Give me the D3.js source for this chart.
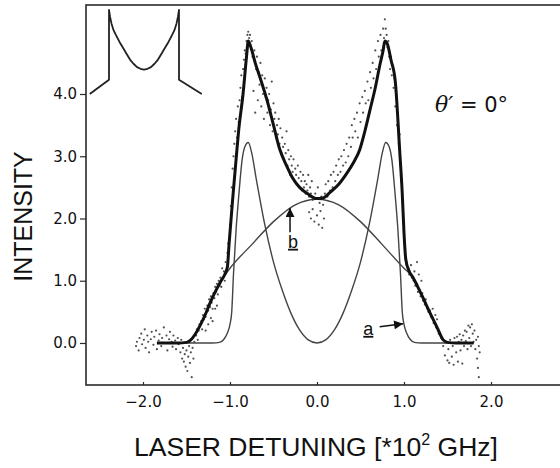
<!DOCTYPE html>
<html><head><meta charset="utf-8">
<script src="https://cdn.jsdelivr.net/npm/d3@7"></script>
<style>
html,body{margin:0;padding:0;background:#fff;}
svg{display:block;}
</style></head>
<body>
<svg id="chart" width="560" height="468"></svg>
<script>
// ---- data ----
const xTicks = [-2, -1, 0, 1, 2];
const yTicks = [0, 1, 2, 3, 4];

// curve a (thin, two narrow peaks)
const aX = [-1.80,-1.20,-1.12,-1.07,-1.03,-1.00,-0.98,-0.96,-0.93,-0.90,-0.86,-0.83,-0.79,-0.75,-0.70,-0.60,-0.50,-0.40,-0.30,-0.20,-0.10,0,
             0.10,0.20,0.30,0.40,0.50,0.60,0.70,0.75,0.79,0.83,0.86,0.90,0.93,0.96,0.98,1.00,1.03,1.07,1.12,1.20,1.80];
const aY = [0,0,0.01,0.06,0.16,0.30,0.50,1.10,1.82,2.35,2.95,3.15,3.22,3.05,2.65,1.90,1.30,0.85,0.48,0.21,0.05,0,
             0.05,0.21,0.48,0.85,1.30,1.90,2.65,3.05,3.22,3.15,2.95,2.35,1.82,1.10,0.50,0.30,0.16,0.06,0.01,0,0];

// curve b (thin, broad)
const bX = [-1.80,-1.60,-1.50,-1.46,-1.40,-1.34,-1.23,-1.11,-1.00,-0.75,-0.50,-0.25,0,0.25,0.50,0.75,1.00,1.10,1.20,1.30,1.38,1.45,1.50,1.60,1.80];
const bY = [0,0,0.01,0.03,0.14,0.29,0.64,0.98,1.20,1.58,1.95,2.22,2.31,2.22,1.95,1.58,1.20,1.06,0.78,0.48,0.25,0.05,0.01,0,0];

// fitted total (thick)
const fitX = [-1.84,-1.60,-1.50,-1.45,-1.40,-1.34,-1.28,-1.23,-1.17,-1.11,-1.06,-1.03,-1.01,-0.97,-0.93,-0.90,-0.85,-0.81,-0.79,-0.76,-0.71,-0.64,-0.57,-0.50,-0.43,-0.35,-0.28,-0.20,-0.11,0,
               0.07,0.15,0.25,0.34,0.42,0.49,0.55,0.61,0.67,0.72,0.76,0.78,0.81,0.85,0.90,0.95,0.98,1.00,1.02,1.06,1.10,1.20,1.30,1.38,1.45,1.50,1.60,1.80];
const fitY = [0,0,0.01,0.05,0.14,0.29,0.47,0.64,0.82,0.98,1.10,1.22,1.60,2.30,2.95,3.42,4.00,4.60,4.85,4.75,4.50,4.20,3.88,3.50,3.12,2.85,2.65,2.50,2.40,2.32,
               2.33,2.42,2.55,2.72,2.90,3.10,3.40,3.75,4.10,4.45,4.70,4.85,4.80,4.55,4.20,3.10,2.40,1.77,1.35,1.15,1.06,0.78,0.48,0.25,0.05,0.01,0,0];

// measured data points [detuning, intensity]
const points = [
[-2.08,-0.05],[-2.07,0.02],[-2.05,-0.12],[-2.04,0.08],[-2.02,0.15],[-2.01,-0.02],[-1.99,0.05],[-1.98,0.22],[-1.97,-0.08],[-1.95,0.12],[-1.94,0.02],[-1.93,-0.15],[-1.91,0.06],[-1.90,0.18],[-1.88,-0.03],[-1.87,0.1],[-1.85,0.2],[-1.84,-0.1],[-1.82,0.04],[-1.81,0.14],[-1.79,-0.05],[-1.78,0.08],[-1.76,0.25],[-1.75,0.0],[-1.73,0.12],[-1.72,-0.12],[-1.70,0.06],[-1.69,0.18],[-1.67,0.02],[-1.66,-0.06],[-1.65,0.12],[-1.63,0.04],[-1.62,-0.1],[-1.60,0.08],[-1.59,-0.02],[-1.57,-0.15],[-1.56,0.05],[-1.55,-0.25],[-1.54,-0.08],[-1.53,-0.3],[-1.52,-0.18],[-1.51,-0.38],[-1.50,-0.12],[-1.49,-0.45],[-1.48,-0.22],[-1.47,-0.05],[-1.46,-0.32],[-1.45,-0.15],[-1.44,-0.55],[-1.43,-0.08],[-1.42,-0.25],[-1.41,0.02],
[-1.39,0.12],[-1.38,0.22],[-1.37,0.05],[-1.36,0.2],[-1.35,0.3],[-1.33,0.35],[-1.32,0.22],[-1.31,0.45],[-1.30,0.38],[-1.29,0.55],[-1.28,0.42],[-1.27,0.5],[-1.26,0.6],[-1.25,0.52],[-1.24,0.7],[-1.23,0.58],[-1.22,0.75],[-1.21,0.65],[-1.20,0.55],[-1.19,0.8],[-1.18,0.72],[-1.17,0.9],[-1.16,0.82],[-1.15,0.95],[-1.14,0.78],[-1.13,1.0],[-1.12,0.92],[-1.11,1.05],[-1.10,0.9],[-1.09,1.2],[-1.08,1.05],[-1.07,1.15],[-1.06,1.0],[-1.05,1.3],[-1.04,1.18],[-1.03,1.45],[-1.02,1.6],
[-1.28,0.2],[-1.25,0.3],[-1.22,0.4],[-1.20,0.35],[-1.17,0.55],[-1.15,0.6],
[-1.0,1.9],[-0.99,2.2],[-0.98,2.5],[-0.97,2.8],[-0.96,3.0],[-0.95,3.2],[-0.94,3.4],[-0.93,3.6],[-0.92,3.3],[-0.91,3.8],[-0.90,3.55],[-0.89,3.9],[-0.88,4.1],[-0.87,4.3],[-0.86,3.95],[-0.85,4.4],[-0.84,4.55],[-0.83,4.7],[-0.82,4.65],[-0.81,4.85],[-0.80,4.95],[-0.79,5.0],[-0.78,4.9],[-0.77,4.95],
[-0.75,4.85],[-0.74,4.6],[-0.73,4.05],[-0.72,4.7],[-0.71,3.7],[-0.70,4.4],[-0.69,4.6],[-0.68,3.9],[-0.67,4.35],[-0.66,4.15],[-0.65,4.5],[-0.64,3.8],[-0.63,4.3],[-0.62,4.0],[-0.61,3.6],[-0.60,4.25],[-0.59,3.95],[-0.58,4.1],[-0.57,3.7],[-0.56,3.9],[-0.55,4.0],[-0.54,3.5],[-0.53,3.75],[-0.52,4.2],[-0.51,3.4],[-0.50,3.85],[-0.49,3.6],[-0.48,3.7],[-0.47,3.3],[-0.46,3.5],[-0.45,3.35],[-0.44,3.6],[-0.43,3.2],[-0.42,3.45],[-0.41,3.05],[-0.40,3.3],[-0.39,3.15],[-0.38,2.95],[-0.37,3.2],[-0.36,3.05],[-0.35,3.4],[-0.34,2.85],[-0.33,3.1],[-0.32,2.95],[-0.31,2.7],[-0.30,3.0],[-0.29,2.85],[-0.28,2.75],[-0.27,2.95],[-0.26,2.6],[-0.25,2.8],[-0.24,2.7],[-0.23,2.55],[-0.22,2.85],[-0.21,2.65],[-0.20,2.5],[-0.19,2.75],[-0.18,2.6],[-0.17,2.45],[-0.16,2.7],[-0.15,2.5],[-0.14,2.6],[-0.13,2.4],[-0.12,2.55],[-0.11,2.45],[-0.10,2.7],[-0.09,2.35],[-0.08,2.5],[-0.07,2.4],[-0.06,2.6],[-0.05,2.3],
[-0.09,2.1],[-0.07,2.0],[-0.05,2.15],[-0.03,1.95],[0.0,2.05],[0.02,1.9],[0.04,2.12],[0.06,1.85],[0.08,2.0],[0.03,2.25],[0.05,2.35],[0.07,2.22],[-0.02,2.4],[0.01,2.5],
[0.09,2.4],[0.10,2.55],[0.12,2.35],[0.13,2.6],[0.15,2.45],[0.16,2.7],[0.18,2.5],[0.19,2.75],[0.21,2.6],[0.22,2.85],[0.24,2.7],[0.25,2.95],[0.27,2.75],[0.28,3.0],[0.30,2.85],[0.31,3.1],[0.33,2.9],[0.34,3.2],[0.36,3.0],[0.37,3.3],[0.39,3.15],[0.40,3.5],[0.41,3.3],[0.43,3.6],[0.44,3.4],[0.46,3.7],[0.47,3.3],[0.49,3.85],[0.50,3.55],[0.52,3.95],[0.53,3.7],[0.55,4.05],[0.56,3.85],[0.58,4.2],[0.59,3.9],[0.61,4.35],[0.62,4.1],[0.64,4.5],[0.65,4.25],[0.67,4.7],[0.68,4.4],[0.70,4.85],[0.71,4.6],[0.73,4.95],[0.74,4.7],[0.76,5.05],[0.77,4.9],[0.78,5.2],[0.79,5.05],[0.80,4.95],
[0.81,4.75],[0.82,4.85],[0.83,4.6],[0.84,4.4],[0.85,4.6],[0.86,4.3],[0.87,4.45],[0.88,4.1],[0.89,4.25],[0.90,3.8],[0.91,3.95],[0.92,3.5],[0.93,3.65],[0.94,3.2],[0.95,3.35],[0.96,2.85],[0.97,2.6],[0.98,2.3],[0.99,2.0],[1.00,1.75],[1.01,1.5],[1.02,1.35],[1.03,1.25],
[1.05,1.2],[1.06,1.1],[1.08,1.25],[1.09,1.05],[1.11,1.0],[1.12,1.15],[1.13,0.92],[1.15,0.95],[1.16,0.82],[1.18,0.85],[1.19,0.75],[1.21,0.8],[1.22,0.68],[1.24,0.62],[1.25,0.7],[1.27,0.55],[1.28,0.5],[1.30,0.52],[1.31,0.42],[1.33,0.4],[1.34,0.32],[1.36,0.3],[1.37,0.25],[1.39,0.2],[1.40,0.15],[1.42,0.12],[1.43,0.08],
[1.15,1.3],[1.20,1.0],[1.17,1.1],[1.33,0.55],[1.36,0.45],[1.38,0.38],
[1.45,-0.05],[1.47,-0.2],[1.48,0.02],[1.50,-0.28],[1.51,-0.1],[1.52,-0.32],[1.53,0.05],[1.55,-0.22],[1.56,-0.05],[1.57,-0.35],[1.58,0.08],[1.60,-0.15],[1.61,0.1],[1.62,-0.3],[1.63,0.02],[1.64,0.14],[1.65,-0.12],[1.66,0.05],[1.67,-0.33],[1.68,0.12],[1.69,-0.05],[1.70,0.2],[1.71,0.03],[1.72,0.18],[1.73,-0.1],[1.74,0.28],[1.75,0.08],[1.76,0.25],[1.77,-0.05],[1.78,0.3],[1.79,0.15],[1.80,0.02],[1.81,0.2],[1.82,-0.1],[1.83,0.05],[1.84,-0.25],[1.85,-0.4],[1.85,0.1],[1.86,-0.05],[1.86,-0.55],[1.87,-0.15]
];

// inset: theoretical lineshape (relative units)
const insetX = [-1.55,-1.0,-1.0,-0.97,-0.93,-0.87,-0.8,-0.7,-0.6,-0.5,-0.4,-0.3,-0.2,-0.1,0,0.1,0.2,0.3,0.4,0.5,0.6,0.7,0.8,0.87,0.93,0.97,1.0,1.0,1.65];
const insetY = [0,0.17,1.0,0.92,0.84,0.76,0.70,0.62,0.55,0.48,0.41,0.36,0.32,0.30,0.29,0.30,0.32,0.36,0.41,0.48,0.55,0.62,0.70,0.76,0.84,0.92,1.0,0.17,0];

// annotations
const annotations = [
  {label: "b", textX: -0.275, textY: 1.53, tailX: -0.31, tailY: 1.78, tipX: -0.31, tipY: 2.17},
  {label: "a", textX: 0.59, textY: 0.13, tailX: 0.72, tailY: 0.26, tipX: 0.99, tipY: 0.31}
];

// ---- drawing ----
const SANS = "'Liberation Sans', Arial, sans-serif";
const DJ = "'DejaVu Sans', sans-serif";
const svg = d3.select("#chart");
const plot = {left: 86, top: 5, right: 566, bottom: 385};

const x = d3.scaleLinear().domain([-2.655, 2.862]).range([plot.left, plot.right]);
const y = d3.scaleLinear().domain([-0.675, 5.43]).range([plot.bottom, plot.top]);

// frame
svg.append("rect")
  .attr("x", plot.left).attr("y", plot.top)
  .attr("width", plot.right - plot.left).attr("height", plot.bottom - plot.top)
  .attr("fill", "none").attr("stroke", "#2a2a2a").attr("stroke-width", 1.6);

// axes
const fmt = d3.format(".1f");
const yAxis = d3.axisLeft(y).tickValues(yTicks).tickFormat(fmt).tickSizeInner(6).tickSizeOuter(0).tickPadding(3);
const gy = svg.append("g").attr("transform", `translate(${plot.left},0)`).call(yAxis);
gy.select(".domain").remove();
gy.selectAll("line").attr("stroke", "#2a2a2a").attr("stroke-width", 1.2);
gy.selectAll("text").style("font-family", DJ).style("font-size", "15px").attr("fill", "#111");

const xAxis = d3.axisBottom(x).tickValues(xTicks).tickFormat(fmt).tickSizeInner(-3).tickSizeOuter(0).tickPadding(11);
const gx = svg.append("g").attr("transform", `translate(0,${plot.bottom})`).call(xAxis);
gx.select(".domain").remove();
gx.selectAll("line").attr("stroke", "#2a2a2a").attr("stroke-width", 1.2);
gx.selectAll("text").style("font-family", DJ).style("font-size", "15px").attr("fill", "#111");

// axis titles
svg.append("text")
  .attr("transform", `translate(32,${(y(1) + y(3)) / 2 - 2}) rotate(-90)`)
  .attr("text-anchor", "middle").style("font-family", SANS).style("font-size", "25px").attr("fill", "#111")
  .text("INTENSITY");

const xl = svg.append("text")
  .attr("x", (x(-2) + x(2)) / 2 - 1).attr("y", 456)
  .attr("text-anchor", "middle").style("font-family", SANS).style("font-size", "26.5px").attr("fill", "#111");
xl.append("tspan").text("LASER DETUNING [*10");
xl.append("tspan").style("font-size", "16px").attr("dy", -11).text("2");
xl.append("tspan").attr("dy", 11).text(" GHz]");

// curves
const line = (xs, ys) => d3.line().x(i => x(xs[i])).y(i => y(ys[i])).curve(d3.curveMonotoneX)(d3.range(xs.length));

svg.append("path").attr("d", line(bX, bY)).attr("fill", "none").attr("stroke", "#444").attr("stroke-width", 1.4);
svg.append("path").attr("d", line(aX, aY)).attr("fill", "none").attr("stroke", "#444").attr("stroke-width", 1.4);

svg.append("g").selectAll("circle").data(points).join("circle")
  .attr("cx", d => x(d[0])).attr("cy", d => y(d[1])).attr("r", 1.1)
  .attr("fill", "#333").attr("opacity", 0.85);

svg.append("path").attr("d", line(fitX, fitY)).attr("fill", "none").attr("stroke", "#111").attr("stroke-width", 3);

// inset
const ix = d3.scaleLinear().domain([-1, 1]).range([109, 179]);
const iy = d3.scaleLinear().domain([0, 1]).range([94, 10]);
svg.append("path")
  .attr("d", d3.line().x(i => ix(insetX[i])).y(i => iy(insetY[i])).curve(d3.curveLinear)(d3.range(insetX.length)))
  .attr("fill", "none").attr("stroke", "#222").attr("stroke-width", 1.8).attr("stroke-linejoin", "round");

// theta label
svg.append("rect").attr("x", 428).attr("y", 83).attr("width", 92).attr("height", 39).attr("fill", "#fff");
const th = svg.append("text").attr("x", 435).attr("y", 112).attr("fill", "#111");
th.append("tspan").style("font-family", "'DejaVu Serif', serif").style("font-style", "italic").style("font-size", "22px").text("θ′");
th.append("tspan").style("font-family", DJ).style("font-size", "21px").text(" = 0°");

// annotations
svg.append("defs").append("marker")
  .attr("id", "ah").attr("viewBox", "0 0 10 10").attr("refX", 10).attr("refY", 5)
  .attr("markerWidth", 7).attr("markerHeight", 6).attr("orient", "auto")
  .append("path").attr("d", "M0,0 L10,5 L0,10 z").attr("fill", "#111");

const ann = svg.append("g");
annotations.forEach(a => {
  ann.append("line")
    .attr("x1", x(a.tailX)).attr("y1", y(a.tailY))
    .attr("x2", x(a.tipX)).attr("y2", y(a.tipY))
    .attr("stroke", "#111").attr("stroke-width", 1.5).attr("marker-end", "url(#ah)");
  ann.append("text").attr("x", x(a.textX)).attr("y", y(a.textY))
    .attr("text-anchor", "middle").style("font-family", SANS).style("font-size", "18px").attr("fill", "#111")
    .attr("text-decoration", "underline").text(a.label);
});
</script>
</body></html>
